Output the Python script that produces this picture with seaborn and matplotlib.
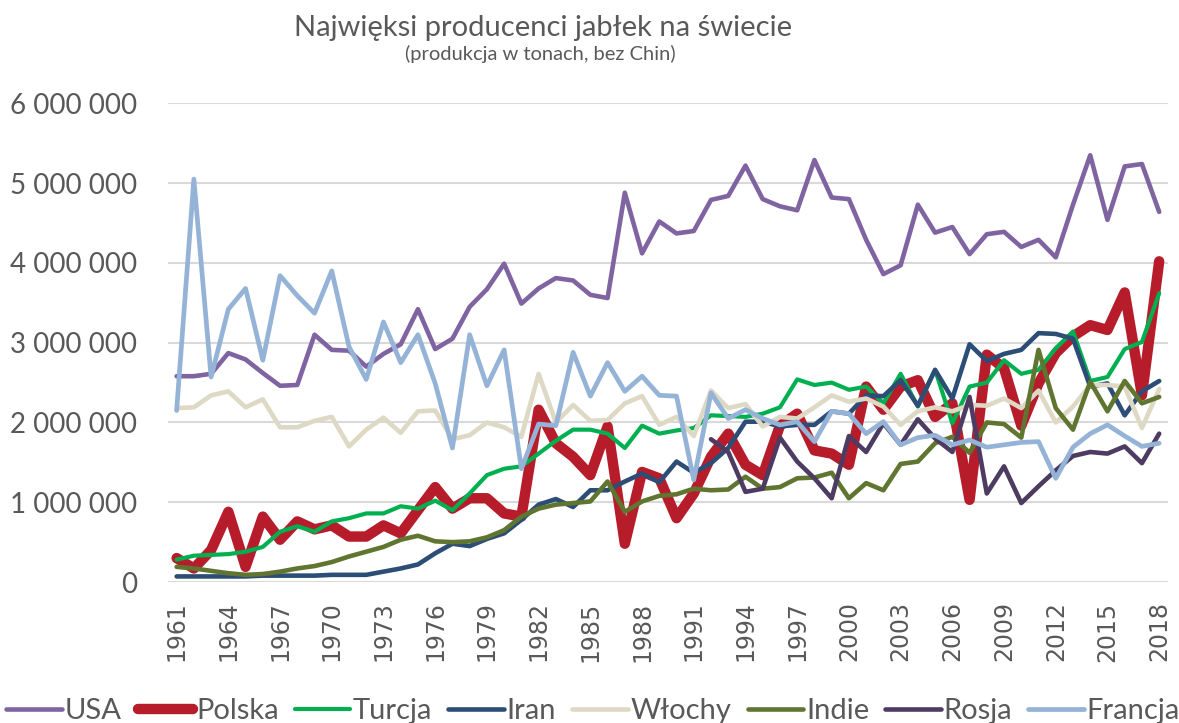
import numpy as np
import matplotlib
matplotlib.use("Agg")
import matplotlib.pyplot as plt
import matplotlib.ticker as mticker
import seaborn as sns

years = list(range(1961, 2019))

usa = [2580000, 2580000, 2610000, 2870000, 2790000, 2620000, 2460000, 2470000, 3100000, 2910000,
       2900000, 2700000, 2860000, 2980000, 3420000, 2920000, 3050000, 3450000, 3670000, 3990000,
       3490000, 3680000, 3810000, 3780000, 3600000, 3560000, 4880000, 4120000, 4520000, 4370000,
       4400000, 4790000, 4840000, 5220000, 4800000, 4710000, 4660000, 5290000, 4820000, 4800000,
       4290000, 3860000, 3970000, 4730000, 4380000, 4450000, 4110000, 4360000, 4390000, 4200000,
       4290000, 4070000, 4730000, 5350000, 4540000, 5210000, 5240000, 4640000]
polska = [300000, 170000, 400000, 880000, 190000, 820000, 530000, 760000, 660000, 710000,
          570000, 570000, 710000, 610000, 900000, 1190000, 920000, 1050000, 1050000, 860000,
          820000, 2160000, 1740000, 1570000, 1340000, 1950000, 480000, 1380000, 1300000, 800000,
          1110000, 1570000, 1860000, 1470000, 1340000, 1960000, 2110000, 1650000, 1610000, 1470000,
          2450000, 2160000, 2450000, 2530000, 2070000, 2240000, 1030000, 2850000, 2680000, 1960000,
          2490000, 2870000, 3080000, 3220000, 3160000, 3630000, 2340000, 4020000]
turcja = [280000, 330000, 340000, 350000, 380000, 440000, 630000, 700000, 630000, 760000,
          800000, 860000, 860000, 950000, 920000, 1020000, 900000, 1110000, 1340000, 1420000,
          1450000, 1610000, 1770000, 1910000, 1910000, 1860000, 1680000, 1960000, 1860000, 1900000,
          1930000, 2090000, 2080000, 2070000, 2110000, 2190000, 2540000, 2470000, 2500000, 2410000,
          2450000, 2240000, 2610000, 2200000, 2660000, 1990000, 2450000, 2500000, 2780000, 2610000,
          2660000, 2930000, 3140000, 2520000, 2570000, 2920000, 3010000, 3620000]
iran = [70000, 70000, 70000, 70000, 70000, 80000, 80000, 80000, 80000, 90000,
        90000, 90000, 130000, 170000, 220000, 360000, 480000, 450000, 540000, 610000,
        780000, 970000, 1040000, 940000, 1150000, 1150000, 1260000, 1360000, 1250000, 1510000,
        1370000, 1490000, 1680000, 2010000, 2010000, 1950000, 1970000, 1970000, 2140000, 2110000,
        2340000, 2330000, 2530000, 2210000, 2660000, 2300000, 2980000, 2770000, 2860000, 2910000,
        3120000, 3110000, 3050000, 2450000, 2490000, 2090000, 2390000, 2520000]
wlochy = [2180000, 2190000, 2340000, 2390000, 2190000, 2290000, 1940000, 1940000, 2020000, 2070000,
          1700000, 1910000, 2060000, 1870000, 2140000, 2150000, 1790000, 1840000, 2000000, 1940000,
          1820000, 2610000, 2000000, 2220000, 2020000, 2030000, 2240000, 2330000, 1970000, 2070000,
          1830000, 2400000, 2180000, 2230000, 1950000, 2070000, 2050000, 2190000, 2340000, 2260000,
          2300000, 2200000, 1970000, 2140000, 2190000, 2140000, 2220000, 2210000, 2300000, 2180000,
          2400000, 2000000, 2200000, 2470000, 2470000, 2450000, 1930000, 2420000]
indie = [190000, 170000, 140000, 110000, 90000, 100000, 130000, 170000, 200000, 250000,
         320000, 380000, 440000, 530000, 580000, 510000, 500000, 510000, 560000, 650000,
         820000, 920000, 970000, 990000, 1010000, 1260000, 880000, 1010000, 1080000, 1100000,
         1170000, 1150000, 1160000, 1320000, 1170000, 1190000, 1300000, 1310000, 1370000, 1050000,
         1240000, 1150000, 1480000, 1510000, 1740000, 1820000, 1620000, 2000000, 1980000, 1810000,
         2910000, 2180000, 1910000, 2510000, 2140000, 2520000, 2240000, 2320000]
rosja = [np.nan] * 31 + [
         1790000, 1630000, 1130000, 1170000, 1810000, 1510000, 1300000, 1050000, 1830000,
         1630000, 1990000, 1720000, 2040000, 1800000, 1630000, 2320000, 1110000, 1450000, 990000,
         1200000, 1400000, 1580000, 1630000, 1610000, 1700000, 1490000, 1860000]
francja = [2150000, 5050000, 2570000, 3420000, 3680000, 2780000, 3840000, 3590000, 3370000, 3900000,
           2950000, 2540000, 3260000, 2750000, 3100000, 2490000, 1680000, 3100000, 2460000, 2910000,
           1420000, 1980000, 1960000, 2880000, 2330000, 2750000, 2390000, 2580000, 2340000, 2330000,
           1280000, 2370000, 2050000, 2160000, 2050000, 1970000, 2010000, 1760000, 2140000, 2110000,
           1860000, 2010000, 1720000, 1810000, 1840000, 1720000, 1780000, 1690000, 1720000, 1750000,
           1760000, 1300000, 1690000, 1860000, 1970000, 1830000, 1700000, 1740000]

series = [
    ("USA", usa, "#8064A2", 3.3),
    ("Polska", polska, "#B71C2B", 7.5),
    ("Turcja", turcja, "#00B050", 3.0),
    ("Iran", iran, "#2C4D75", 3.3),
    ("Włochy", wlochy, "#DDD9C4", 3.3),
    ("Indie", indie, "#5F7530", 3.3),
    ("Rosja", rosja, "#4D3B62", 3.3),
    ("Francja", francja, "#95B3D7", 3.4),
]

sns.set_style("white")
plt.rcParams['font.family'] = ['Lato', 'DejaVu Sans']
GREY = "#595959"

fig = plt.figure(figsize=(11.79, 7.23), dpi=100)
ax = fig.add_axes([0.1425, 0.195, 0.848, 0.662])

for name, vals, color, lw in series:
    sns.lineplot(x=years, y=vals, color=color, lw=lw, ax=ax, label=name,
                 solid_joinstyle='round', solid_capstyle='round')

ax.set_xlim(1960.5, 2018.5)
ax.set_ylim(0, 6000000)
ax.set_xticks(years[::3])
ax.set_xticklabels([str(y) for y in years[::3]], rotation=90, family='DejaVu Sans',
                   fontsize=17, color=GREY, va='top')
ax.yaxis.set_major_locator(mticker.MultipleLocator(1000000))
ax.yaxis.set_major_formatter(mticker.FuncFormatter(lambda v, p: f"{int(v):,}".replace(",", " ")))
ax.tick_params(axis='y', labelsize=20, labelcolor=GREY, length=0, pad=22)
ax.tick_params(axis='x', length=0, pad=14)
ax.grid(axis='y', color='#D9D9D9', lw=1.5)
ax.set_axisbelow(True)
for s in ax.spines.values():
    s.set_visible(False)
ax.set_xlabel("")
ax.set_ylabel("")

fig.text(0.461, 0.950, "Najwięksi producenci jabłek na świecie", ha='center', va='baseline',
         fontsize=21, color=GREY)
fig.text(0.458, 0.917, "(produkcja w tonach, bez Chin)", ha='center', va='baseline',
         fontsize=14.5, color=GREY)

handles, labels = ax.get_legend_handles_labels()
ax.get_legend().remove()
fig.legend(handles, labels, loc='center', bbox_to_anchor=(0.503, 0.017), ncol=8, frameon=False,
           prop={'size': 21}, labelcolor=GREY,
           handlelength=1.9, handletextpad=0.1, columnspacing=0.55, borderpad=0)

fig.savefig("out.png", dpi=100)
